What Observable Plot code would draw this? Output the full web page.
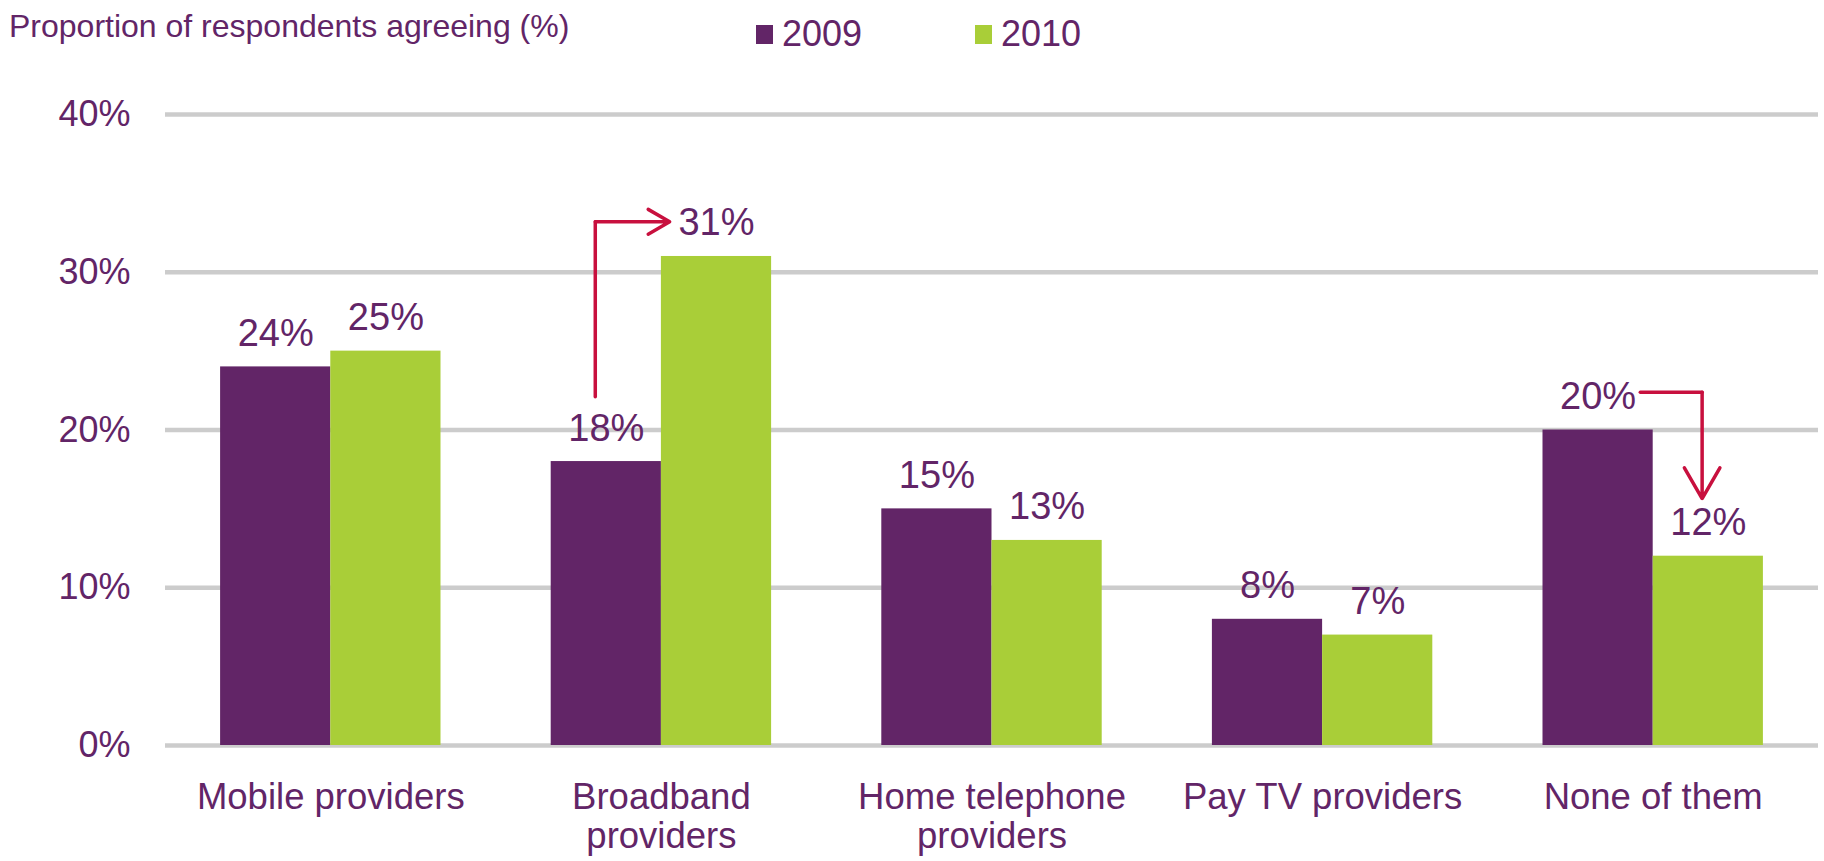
<!DOCTYPE html>
<html>
<head>
<meta charset="utf-8">
<script src="https://cdn.jsdelivr.net/npm/d3@7"></script>
<script src="https://cdn.jsdelivr.net/npm/@observablehq/plot@0.6"></script>
<style>
  html, body { margin: 0; padding: 0; background: #fff; }
  body { font-family: "Liberation Sans", Arial, sans-serif; color: #622567; }
  #header { position: relative; width: 1824px; height: 60px; }
  #title { position: absolute; left: 9px; top: 10px; font-size: 32px; line-height: 1; white-space: nowrap; }
  .leg { position: absolute; top: 16px; font-size: 36px; line-height: 1; display: flex; align-items: center; }
  .sw { display: inline-block; width: 17px; height: 19px; margin-right: 9px; }
</style>
</head>
<body>
<div id="header">
  <div id="title">Proportion of respondents agreeing (%)</div>
  <div class="leg" style="left:756px"><span class="sw" style="background:#622567"></span>2009</div>
  <div class="leg" style="left:975px"><span class="sw" style="background:#A9CE38"></span>2010</div>
</div>
<div id="chart"></div>
<script>
// ---- data ----
const categories = ["Mobile providers", "Broadband\nproviders", "Home telephone\nproviders", "Pay TV providers", "None of them"];
const values2009 = [24, 18, 15, 8, 20];
const values2010 = [25, 31, 13, 7, 12];
const yTicks = [0, 10, 20, 30, 40];
const years = ["2009", "2010"];
const colors = ["#622567", "#A9CE38"];
// annotation arrows: [category position, % value] points
const arrowUpPath = [[0.8, 22.1], [0.8, 33.2]];
const arrowUpHead = [[0.8, 33.2], [1.025, 33.2]];
const arrowDownPath = [[3.961, 22.4], [4.148, 22.4]];
const arrowDownHead = [[4.148, 22.4], [4.148, 15.65]];

const rows = [];
categories.forEach((c, i) => {
  rows.push({i, year: years[0], value: values2009[i], x1: i - 1/3, x2: i, xc: i - 1/6});
  rows.push({i, year: years[1], value: values2010[i], x1: i, x2: i + 1/3, xc: i + 1/6});
});

const purple = "#622567";
const red = "#C8103E";
const seg = ([a, b]) => ({x1: a[0], y1: a[1], x2: b[0], y2: b[1]});

const chart = Plot.plot({
  width: 1824,
  height: 801,
  marginLeft: 165,
  marginRight: 6,
  marginTop: 54,
  marginBottom: 116,
  style: {fontFamily: "'Liberation Sans', Arial, sans-serif", color: purple, background: "#fff"},
  x: {type: "linear", domain: [-0.5, 4.5]},
  y: {domain: [0, 40]},
  color: {domain: years, range: colors},
  marks: [
    Plot.ruleY(yTicks, {stroke: "#cccccc", strokeWidth: 4.5}),
    Plot.rectY(rows, {x1: "x1", x2: "x2", y: "value", fill: "year"}),
    Plot.text(rows, {x: "xc", y: "value", text: d => d.value + "%", lineAnchor: "bottom", dy: -21, fontSize: 38, fill: purple}),
    Plot.line(arrowUpPath, {x: d => d[0], y: d => d[1], stroke: red, strokeWidth: 3.5}),
    Plot.arrow([seg(arrowUpHead)], {x1: "x1", y1: "y1", x2: "x2", y2: "y2", stroke: red, strokeWidth: 3.5, headLength: 20, headAngle: 60}),
    Plot.line(arrowDownPath, {x: d => d[0], y: d => d[1], stroke: red, strokeWidth: 3.5}),
    Plot.arrow([seg(arrowDownHead)], {x1: "x1", y1: "y1", x2: "x2", y2: "y2", stroke: red, strokeWidth: 3.5, headLength: 20, headAngle: 60}),
    Plot.axisY({ticks: yTicks, tickFormat: d => d + "%", tickSize: 0, tickPadding: 35, fontSize: 36, fill: purple, label: null}),
    Plot.axisX({ticks: [0, 1, 2, 3, 4], tickFormat: i => categories[i], tickSize: 0, tickPadding: 35, fontSize: 36.5, lineHeight: 1.08, fill: purple, label: null})
  ]
});
document.getElementById("chart").appendChild(chart);
</script>
</body>
</html>
